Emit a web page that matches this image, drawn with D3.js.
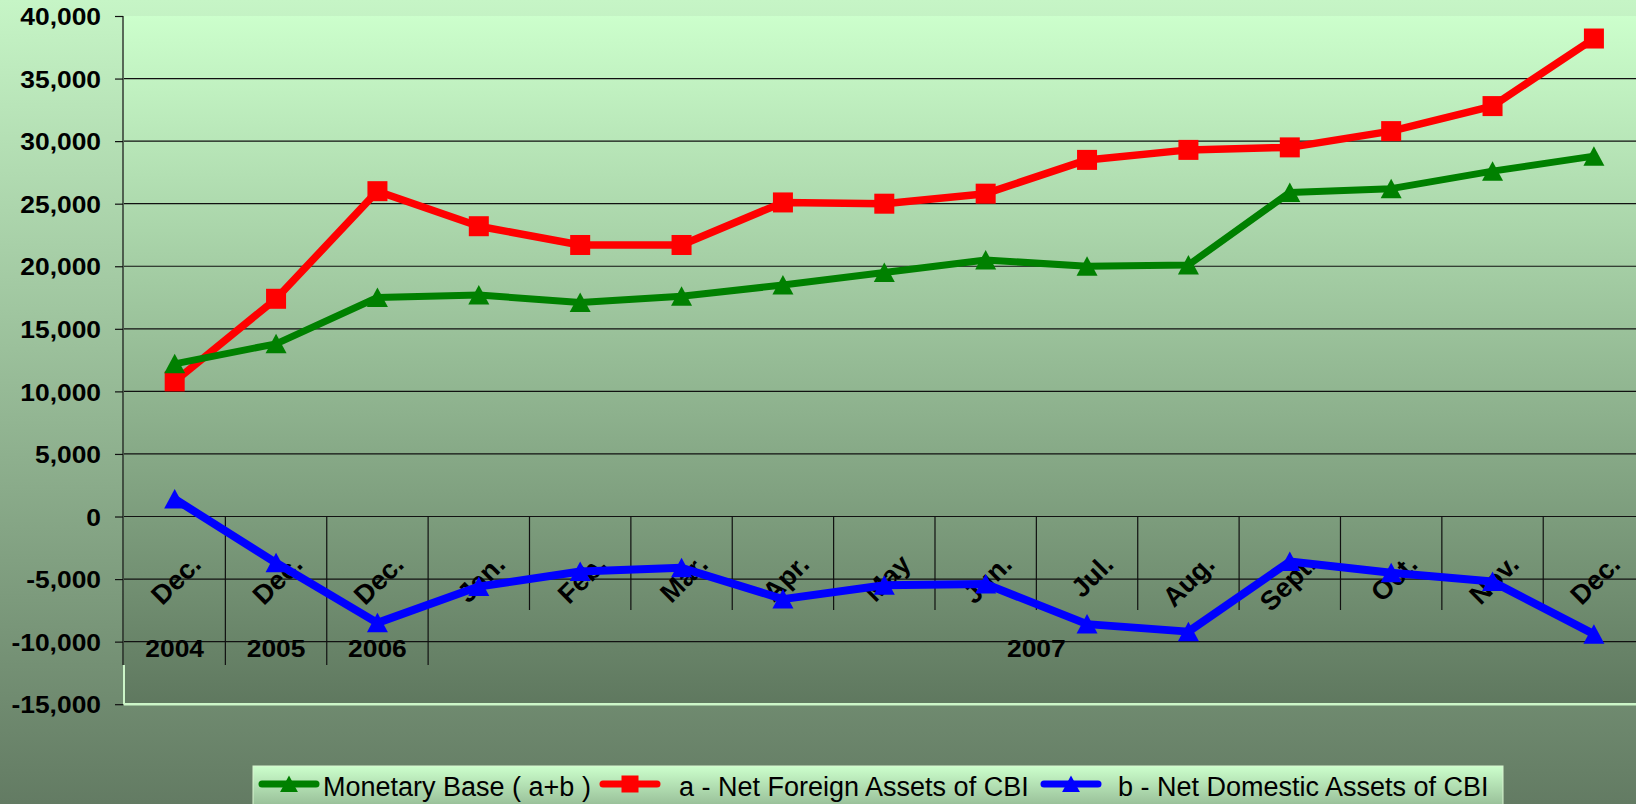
<!DOCTYPE html>
<html>
<head>
<meta charset="utf-8">
<script src="https://cdn.jsdelivr.net/npm/d3@7"></script>
<style>
  body { margin: 0; background: #617a61; }
  svg { display: block; font-family: 'Liberation Sans', Arial, sans-serif; }
</style>
</head>
<body>
<svg id="chart" width="1636" height="804"></svg>
<script>
const months = ['Dec.', 'Dec.', 'Dec.', 'Jan.', 'Feb.', 'Mar.', 'Apr.', 'May', 'Jun.', 'Jul.', 'Aug.', 'Sept.', 'Oct.', 'Nov.', 'Dec.']
const years = ['2004', '2005', '2006', '2007']
const yearStart = [0, 1, 2, 3]
const yearSpan = [1, 1, 1, 12]

const monetaryBase = [12200, 13800, 17500, 17700, 17100, 17600, 18500, 19500, 20500, 20000, 20100, 25900, 26200, 27600, 28800]
const foreignAssets = [10800, 17400, 26000, 23200, 21700, 21700, 25100, 25000, 25800, 28500, 29300, 29500, 30800, 32800, 38200]
const domesticAssets = [1400, -3700, -8500, -5600, -4400, -4100, -6600, -5500, -5400, -8600, -9200, -3600, -4500, -5200, -9400]

const yTicks = [40000, 35000, 30000, 25000, 20000, 15000, 10000, 5000, 0, -5000, -10000, -15000]
const yTickLabels = ['40,000', '35,000', '30,000', '25,000', '20,000', '15,000', '10,000', '5,000', '0', '-5,000', '-10,000', '-15,000']

const seriesNames = ['Monetary Base ( a+b )', 'a - Net Foreign Assets of CBI', 'b - Net Domestic Assets of CBI']

const series = [
  { name: seriesNames[1], values: foreignAssets, color: '#ff0000', marker: 'square', width: 7.5 },
  { name: seriesNames[0], values: monetaryBase, color: '#008000', marker: 'triangle', width: 7 },
  { name: seriesNames[2], values: domesticAssets, color: '#0000ff', marker: 'triangle', width: 8 }
]

const svg = d3.select('#chart')
const plot = { left: 124, top: 16, right: 1644.6, bottom: 704.2 }

const defs = svg.append('defs')
function gradient (id, c0, c1) {
  const g = defs.append('linearGradient')
    .attr('id', id)
    .attr('x1', 0).attr('y1', 0).attr('x2', 0).attr('y2', 1)
  g.append('stop').attr('offset', '0%').attr('stop-color', c0)
  g.append('stop').attr('offset', '100%').attr('stop-color', c1)
}
gradient('bg', '#c6f5c6', '#637b63')
gradient('plotbg', '#ccffcc', '#5f785f')
gradient('legbg', '#ccffcc', '#7e9e7e')

svg.append('rect')
  .attr('width', 1636).attr('height', 804)
  .attr('fill', 'url(#bg)')

svg.append('rect')
  .attr('x', plot.left).attr('y', plot.top)
  .attr('width', plot.right - plot.left).attr('height', plot.bottom - plot.top)
  .attr('fill', 'url(#plotbg)')

const x = d3.scaleBand()
  .domain(d3.range(months.length))
  .range([plot.left, plot.right])
  .padding(0)
const cx = i => x(i) + x.bandwidth() / 2

const y = d3.scaleLinear()
  .domain([-15000, 40000])
  .range([plot.bottom, plot.top])

// gridlines
svg.append('g')
  .selectAll('line')
  .data(yTicks.filter(d => d > -15000 && d < 40000))
  .enter().append('line')
  .attr('x1', plot.left).attr('x2', plot.right)
  .attr('y1', d => y(d)).attr('y2', d => y(d))
  .attr('stroke', '#111')
  .attr('stroke-width', 1.2)

// light plot border at bottom / lower left
svg.append('line')
  .attr('x1', plot.left).attr('x2', plot.right)
  .attr('y1', plot.bottom).attr('y2', plot.bottom)
  .attr('stroke', '#ccf5c8').attr('stroke-width', 2.5)
svg.append('line')
  .attr('x1', plot.left).attr('x2', plot.left)
  .attr('y1', 665).attr('y2', plot.bottom)
  .attr('stroke', '#ccf5c8').attr('stroke-width', 2)

// y axis
const yAxis = svg.append('g')
  .attr('transform', 'translate(' + (plot.left - 1) + ',0)')
  .call(d3.axisLeft(y).tickValues(yTicks).tickSize(8).tickFormat((d, i) => yTickLabels[i]))
yAxis.select('.domain').remove()
yAxis.selectAll('.tick line').attr('stroke', '#111').attr('stroke-width', 1.2)
yAxis.selectAll('.tick text')
  .attr('x', 0)
  .attr('dy', '0.36em')
  .attr('transform', 'translate(-22,0) scale(1.1,1)')
  .attr('font-size', 24)
  .attr('font-weight', 'bold')
  .attr('font-family', "'Liberation Sans', Arial, sans-serif")
  .attr('fill', '#000')
svg.append('line')
  .attr('x1', plot.left - 1).attr('x2', plot.left - 1)
  .attr('y1', plot.top).attr('y2', 665)
  .attr('stroke', '#111').attr('stroke-width', 1.2)

// category separators
const xAxis = svg.append('g')
xAxis.selectAll('line.month')
  .data(d3.range(1, months.length))
  .enter().append('line')
  .attr('x1', d => x(d)).attr('x2', d => x(d))
  .attr('y1', y(0))
  .attr('y2', d => yearStart.includes(d) ? 665 : 610)
  .attr('stroke', '#111')
  .attr('stroke-width', 1.2)

xAxis.selectAll('text.month')
  .data(months)
  .enter().append('text')
  .attr('transform', (d, i) => 'translate(' + (cx(i) + 28) + ',566) rotate(-45)')
  .attr('text-anchor', 'end')
  .attr('font-size', 27)
  .attr('font-weight', 'bold')
  .text(d => d)

xAxis.selectAll('text.year')
  .data(years)
  .enter().append('text')
  .attr('transform', (d, i) => {
    const mid = x(yearStart[i]) + x.bandwidth() * yearSpan[i] / 2
    return 'translate(' + mid + ',657) scale(1.1,1)'
  })
  .attr('text-anchor', 'middle')
  .attr('font-size', 24)
  .attr('font-weight', 'bold')
  .text(d => d)

// lines and markers
const line = d3.line()
  .x((d, i) => cx(i))
  .y(d => y(d))

const trianglePath = 'M0,-10L10.5,9.5L-10.5,9.5Z'

function drawMarker (sel, s, px, py, scale) {
  const k = scale || 1
  if (s.marker === 'square') {
    sel.append('rect')
      .attr('x', px - 10 * k).attr('y', py - 10 * k)
      .attr('width', 20 * k).attr('height', 20 * k)
      .attr('fill', s.color)
  } else {
    sel.append('path')
      .attr('d', trianglePath)
      .attr('transform', 'translate(' + px + ',' + py + ') scale(' + k + ')')
      .attr('fill', s.color)
  }
}

series.forEach(s => {
  const g = svg.append('g')
  g.append('path')
    .datum(s.values)
    .attr('d', line)
    .attr('fill', 'none')
    .attr('stroke', s.color)
    .attr('stroke-width', s.width)
    .attr('stroke-linejoin', 'round')
  s.values.forEach((v, i) => drawMarker(g, s, cx(i), y(v)))
})

// legend
const legend = svg.append('g')
legend.append('rect')
  .attr('x', 253).attr('y', 766)
  .attr('width', 1250).attr('height', 60)
  .attr('fill', 'url(#legbg)')
  .attr('stroke', '#d8f5d0').attr('stroke-width', 1)

const legendItems = [series[1], series[0], series[2]]
const legendSymbolX = [259, 600, 1041]
const legendTextX = [323, 679, 1118]

legendItems.forEach((s, i) => {
  const g = legend.append('g')
  g.append('line')
    .attr('x1', legendSymbolX[i] + 3).attr('x2', legendSymbolX[i] + 57)
    .attr('y1', 784).attr('y2', 784)
    .attr('stroke', s.color)
    .attr('stroke-width', 7)
    .attr('stroke-linecap', 'round')
  drawMarker(g, s, legendSymbolX[i] + 30, 784, 0.85)
  g.append('text')
    .attr('x', legendTextX[i]).attr('y', 796)
    .attr('font-size', 27)
    .attr('fill', '#000')
    .text(s.name)
})
</script>
</body>
</html>
